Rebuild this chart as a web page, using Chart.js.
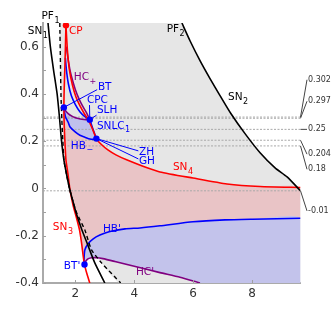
<!DOCTYPE html>
<html>
<head>
<meta charset="utf-8">
<script src="https://cdn.jsdelivr.net/npm/chart.js@4.4.0/dist/chart.umd.min.js"></script>
<style>
  html, body { margin: 0; padding: 0; background: #fff; }
  #wrap { width: 332px; height: 318px; }
</style>
</head>
<body>
<div id="wrap"><canvas id="diagrama"></canvas></div>
<script>
// curvas de bifurcación, pares [x, y]
const sn1 = [[1.07,0.70],[1.15,0.60],[1.26,0.50],[1.38,0.40],[1.46,0.30],[1.53,0.20],[1.61,0.12],[1.70,0.06],[1.80,0.0],[1.93,-0.06],[2.03,-0.105],[2.22,-0.175],[2.40,-0.232],[2.66,-0.315],[3.0,-0.40]];
const pf1 = [[1.47,0.70],[1.49,0.55],[1.51,0.40],[1.54,0.29],[1.575,0.20],[1.61,0.12],[1.70,0.06],[1.80,0.0],[1.93,-0.06],[2.05,-0.105],[2.32,-0.175],[2.55,-0.26],[2.89,-0.315],[3.54,-0.40]];
const sn2 = [[5.62,0.70],[5.895,0.625],[6.235,0.541],[6.575,0.465],[6.915,0.393],[7.289,0.316],[7.765,0.232],[8.276,0.151],[8.786,0.087],[9.194,0.049],[9.65,-0.01]];
const sn3Top = [[1.68,0.69],[1.66,0.59],[1.64,0.50],[1.62,0.42],[1.61,0.343]];
const sn3Mid = [[1.61,0.343],[1.62,0.27],[1.64,0.21],[1.68,0.12],[1.75,0.06],[1.81,0.0],[1.92,-0.07],[2.05,-0.13],[2.14,-0.175],[2.21,-0.23],[2.26,-0.28],[2.31,-0.322]];
const sn3Tail = [[2.31,-0.322],[2.39,-0.36],[2.49,-0.40]];
const sn4Top = [[1.68,0.69],[1.728,0.587],[1.796,0.503],[1.898,0.439],[2.017,0.388],[2.153,0.350],[2.306,0.316],[2.459,0.286],[2.595,0.248],[2.714,0.211]];
const sn4Right = [[2.714,0.211],[2.867,0.188],[3.105,0.163],[3.378,0.142],[3.741,0.121],[4.296,0.094],[4.874,0.070],[5.997,0.044],[7.153,0.019],[8.276,0.008],[9.65,0.004]];
const hcPlus = [[1.694,0.600],[1.745,0.553],[1.813,0.503],[1.898,0.460],[2.0,0.418],[2.119,0.380],[2.238,0.350],[2.357,0.325],[2.49,0.291]];
const hbPlus = [[1.66,0.553],[1.694,0.503],[1.762,0.443],[1.864,0.392],[2.0,0.355],[2.153,0.325],[2.323,0.304],[2.49,0.291]];
const snlc1 = [[2.49,0.291],[2.595,0.252],[2.714,0.211]];
const hcLow = [[1.61,0.343],[1.677,0.327],[1.755,0.317],[1.881,0.306],[1.983,0.300],[2.102,0.296],[2.221,0.293],[2.357,0.291],[2.49,0.291]];
const hbMinus = [[1.61,0.343],[1.636,0.319],[1.677,0.299],[1.755,0.280],[1.813,0.261],[1.983,0.240],[2.153,0.225],[2.323,0.217],[2.493,0.209],[2.629,0.208],[2.714,0.211]];
const hbPrime = [[2.31,-0.322],[2.295,-0.30],[2.323,-0.260],[2.425,-0.235],[2.595,-0.214],[2.833,-0.197],[3.173,-0.182],[3.684,-0.171],[4.194,-0.167],[4.874,-0.158],[5.997,-0.141],[7.085,-0.133],[8.027,-0.130],[9.65,-0.126]];
const hcPrime = [[2.31,-0.322],[2.357,-0.307],[2.442,-0.297],[2.561,-0.293],[2.731,-0.293],[2.935,-0.297],[3.344,-0.309],[3.966,-0.328],[4.874,-0.356],[5.554,-0.376],[6.235,-0.40]];

// puntos especiales
const puntosNombres = ['CP', 'BT', 'CPC', 'ZH', "BT'"];
const puntosX = [1.68, 1.61, 2.49, 2.714, 2.31];
const puntosY = [0.69, 0.343, 0.291, 0.211, -0.322];

// niveles de referencia (línea punteada) y sus etiquetas
const nivelesRef = [0.302, 0.297, 0.25, 0.204, 0.18, -0.01];
const etiquetasRef = ['0.302', '0.297', '0.25', '0.204', '0.18', '-0.01'];

// ejes
const rangoX = [0.9, 9.65];
const rangoY = [-0.4, 0.7];
const ticksX = [2, 4, 6, 8];
const ticksY = [-0.4, -0.2, 0, 0.2, 0.4, 0.6];
const ticksYMenores = [-0.3, -0.1, 0.1, 0.3, 0.5];

const ROJO = '#ff0000', AZUL = '#0000ff', MORADO = '#800080', NEGRO = '#000000';

// textos dentro del gráfico: [texto, subíndice, x, y, color]
const rotulos = [
  ['CP', '', 1.78, 0.666, ROJO],
  ['HC', '+', 1.949, 0.471, MORADO],
  ['BT', '', 2.765, 0.428, AZUL],
  ['CPC', '', 2.391, 0.373, AZUL],
  ['SLH', '', 2.731, 0.329, AZUL],
  ['SNLC', '1', 2.731, 0.265, AZUL],
  ['HB', '\u2212', 1.847, 0.180, AZUL],
  ['ZH', '', 4.16, 0.153, AZUL],
  ['GH', '', 4.16, 0.115, AZUL],
  ['SN', '4', 5.316, 0.089, ROJO],
  ['SN', '3', 1.235, -0.163, ROJO],
  ["HB'", '', 2.935, -0.171, AZUL],
  ["BT'", '', 1.609, -0.328, AZUL],
  ["HC'", '', 4.058, -0.356, MORADO],
  ['SN', '1', 0.384, 0.666, NEGRO],
  ['PF', '1', 0.85, 0.727, NEGRO],
  ['PF', '2', 5.102, 0.674, NEGRO],
  ['SN', '2', 7.187, 0.386, NEGRO],
];
// líneas guía de rótulo: [desde x, desde y, índice del punto]
const guias = [
  [2.74, 0.418, 1],
  [2.48, 0.353, 2],
  [2.72, 0.31, 2],
  [4.14, 0.159, 3],
  [4.14, 0.125, 3],
];
// altura de cada etiqueta de referencia en el margen derecho
const alturaEtiquetaRef = [0.46, 0.369, 0.25, 0.145, 0.081, -0.095];

const aPuntos = (lista) => lista.map(([x, y]) => ({ x, y }));

function curva(puntos, color, extra = {}) {
  return Object.assign({
    data: aPuntos(puntos), showLine: true, borderColor: color, borderWidth: 1.6,
    pointRadius: 0, fill: false, tension: 0.2, order: 2,
  }, extra);
}
function zona(puntos, color, orden) {
  return {
    data: aPuntos(puntos), showLine: true, borderWidth: 0, borderColor: 'rgba(0,0,0,0)',
    pointRadius: 0, fill: 'shape', backgroundColor: color, tension: 0.2, order: orden,
  };
}

const esquinaInfDer = [rangoX[1], rangoY[0]];
const zonaGris = [...pf1, esquinaInfDer, ...sn2.slice().reverse()];
const zonaRosa = [...sn3Mid, ...hbPrime.slice(1), ...sn4Right.slice().reverse(), ...hbMinus.slice().reverse()];
const zonaLilaSup = [...hcLow, ...snlc1.slice(1), ...hbMinus.slice().reverse()];
const zonaLilaInf = [...hbPrime, esquinaInfDer, ...hcPrime.slice().reverse()];

const punteadas = nivelesRef.map((v) => ({
  data: [{ x: rangoX[0], y: v }, { x: rangoX[1], y: v }], showLine: true,
  borderColor: '#a8a8a8', borderWidth: 1, borderDash: [2, 1.5], pointRadius: 0, order: 4,
}));

const datasets = [
  zona(zonaGris, '#e6e6e6', 12),
  zona(zonaRosa, 'rgb(233,196,198)', 11),
  zona(zonaLilaSup, 'rgb(192,192,236)', 10),
  zona(zonaLilaInf, 'rgb(195,195,235)', 10),
  ...punteadas,
  curva(sn1, NEGRO),
  curva(pf1, NEGRO, { borderDash: [4, 3], borderWidth: 1.4 }),
  curva(sn2, NEGRO),
  curva([...sn3Top, ...sn3Mid.slice(1), ...sn3Tail.slice(1)], ROJO),
  curva([...sn4Top, ...sn4Right.slice(1)], ROJO),
  curva(hcPlus, MORADO),
  curva(hcLow, MORADO),
  curva(hcPrime, MORADO),
  curva(hbPlus, AZUL),
  curva(snlc1, AZUL),
  curva(hbMinus, AZUL),
  curva(hbPrime, AZUL),
  {
    data: puntosX.map((x, i) => ({ x, y: puntosY[i] })),
    pointRadius: 3.2, pointBorderWidth: 0,
    pointBackgroundColor: puntosNombres.map((n) => (n === 'CP' ? ROJO : AZUL)),
    order: 0,
  },
];

const anotaciones = {
  id: 'anotaciones',
  afterDatasetsDraw(chart) {
    const { ctx, chartArea, scales: { x, y } } = chart;
    ctx.save();
    // marcas de los ejes hacia dentro
    ctx.strokeStyle = '#a0a0a0';
    ctx.lineWidth = 1;
    ctx.beginPath();
    for (const v of [...ticksY, ...ticksYMenores]) {
      const py = Math.round(y.getPixelForValue(v)) + 0.5;
      ctx.moveTo(chartArea.left, py);
      ctx.lineTo(chartArea.left + 3, py);
    }
    for (const v of ticksX) {
      const px = Math.round(x.getPixelForValue(v)) + 0.5;
      ctx.moveTo(px, chartArea.bottom);
      ctx.lineTo(px, chartArea.bottom - 3);
    }
    ctx.stroke();

    // líneas guía
    ctx.lineWidth = 1;
    ctx.strokeStyle = AZUL;
    for (const [gx, gy, i] of guias) {
      ctx.beginPath();
      ctx.moveTo(x.getPixelForValue(gx), y.getPixelForValue(gy));
      ctx.lineTo(x.getPixelForValue(puntosX[i]), y.getPixelForValue(puntosY[i]));
      ctx.stroke();
    }

    // rótulos
    ctx.textBaseline = 'middle';
    ctx.textAlign = 'left';
    for (const [texto, sub, rx, ry, color] of rotulos) {
      const px = x.getPixelForValue(rx), py = y.getPixelForValue(ry);
      ctx.fillStyle = color;
      ctx.font = '10.5px "DejaVu Sans"';
      ctx.fillText(texto, px, py);
      if (sub) {
        const w = ctx.measureText(texto).width;
        ctx.font = '8px "DejaVu Sans"';
        ctx.fillText(sub, px + w + 0.5, py + 4.5);
      }
    }

    // etiquetas de referencia a la derecha
    const xr = chartArea.right;
    ctx.strokeStyle = '#444';
    ctx.fillStyle = '#333';
    ctx.font = '8px "DejaVu Sans"';
    nivelesRef.forEach((v, i) => {
      const y0 = y.getPixelForValue(v);
      const y1 = y.getPixelForValue(alturaEtiquetaRef[i]);
      ctx.beginPath();
      ctx.moveTo(xr, y0);
      ctx.lineTo(xr + 6.5, y1);
      ctx.stroke();
      ctx.fillText(etiquetasRef[i], xr + 7.5, y1);
    });
    ctx.restore();
  },
};

new Chart(document.querySelector('#diagrama'), {
  type: 'scatter',
  data: { datasets },
  options: {
    responsive: true,
    maintainAspectRatio: false,
    animation: false,
    events: [],
    layout: { padding: { top: 23, right: 31.5, left: 0, bottom: 0 } },
    plugins: { legend: { display: false }, tooltip: { enabled: false } },
    scales: {
      x: {
        type: 'linear', min: rangoX[0], max: rangoX[1],
        afterBuildTicks: (s) => { s.ticks = ticksX.map((value) => ({ value })); },
        afterFit: (s) => { s.height = 35; },
        grid: { display: false, drawTicks: false },
        border: { color: '#aaaaaa', width: 2 },
        ticks: { color: '#333', font: { family: 'DejaVu Sans', size: 12 }, padding: 4, maxRotation: 0 },
      },
      y: {
        type: 'linear', min: rangoY[0], max: rangoY[1],
        afterBuildTicks: (s) => { s.ticks = ticksY.map((value) => ({ value })); },
        afterFit: (s) => { s.width = 43; },
        grid: { display: false, drawTicks: false },
        border: { color: '#aaaaaa', width: 2 },
        ticks: {
          color: '#333', font: { family: 'DejaVu Sans', size: 12 }, padding: 4,
          callback: (v) => String(Math.round(v * 10) / 10),
        },
      },
    },
  },
  plugins: [anotaciones],
});
</script>
</body>
</html>
